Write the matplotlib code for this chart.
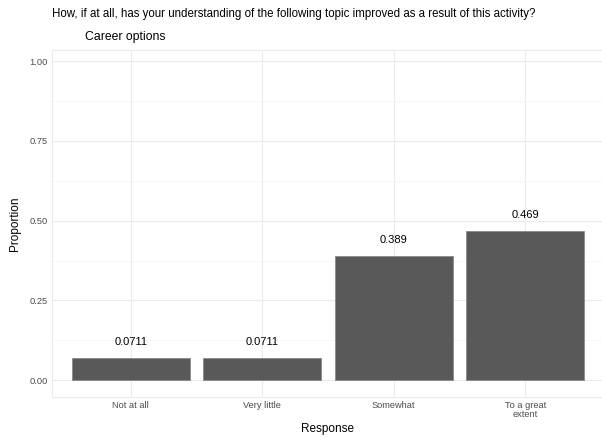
import matplotlib
matplotlib.use('Agg')
import matplotlib.pyplot as plt
import numpy as np

plt.rcParams['font.family'] = ['Liberation Sans', 'DejaVu Sans']

# Data
responses = ['Not at all', 'Very little', 'Somewhat', 'To a great\nextent']
proportion = [0.0711, 0.0711, 0.389, 0.469]
labels = ['0.0711', '0.0711', '0.389', '0.469']

fig = plt.figure(figsize=(6.02, 4.42), dpi=100)
ax = fig.add_axes([52/602, 1 - 397/442, 552/602, 347/442])

x = np.arange(1, len(responses) + 1)
ax.bar(x, proportion, width=0.9, color='#595959', edgecolor='#8a8a8a', linewidth=0.6, zorder=3)
for xi, v, lab in zip(x, proportion, labels):
    ax.text(xi, v + 0.05, lab, ha='center', va='center', fontsize=8, color='black', zorder=4)

ax.set_xlim(0.4, 4.6)
ax.set_ylim(-0.0525, 1.035)
ax.set_xticks(x)
ax.set_xticklabels(responses, fontsize=6.7, color='#4d4d4d', linespacing=0.95)
ax.set_yticks([0, 0.25, 0.5, 0.75, 1.0])
ax.set_yticklabels(['0.00', '0.25', '0.50', '0.75', '1.00'], fontsize=6.7, color='#4d4d4d')
ax.set_yticks([0.125, 0.375, 0.625, 0.875], minor=True)
ax.tick_params(axis='both', which='both', length=0, pad=3)
ax.grid(True, which='major', color='#ebebeb', linewidth=0.8, zorder=0)
ax.grid(True, which='minor', axis='y', color='#f3f3f3', linewidth=0.5, zorder=0)
for s in ax.spines.values():
    s.set_color('#ebebeb')
    s.set_linewidth(0.8)

ax.set_ylabel('Proportion', fontsize=8.5, labelpad=6)
fig.text(328/602, 1 - 429/442, 'Response', fontsize=8.5, ha='center', va='center')

fig.text(52/602, 1 - 14/442, 'How, if at all, has your understanding of the following topic improved as a result of this activity?',
         fontsize=8.3, ha='left', va='center')
fig.text(85/602, 1 - 37/442, 'Career options', fontsize=8.8, ha='left', va='center')

fig.savefig('out.png', dpi=100)
